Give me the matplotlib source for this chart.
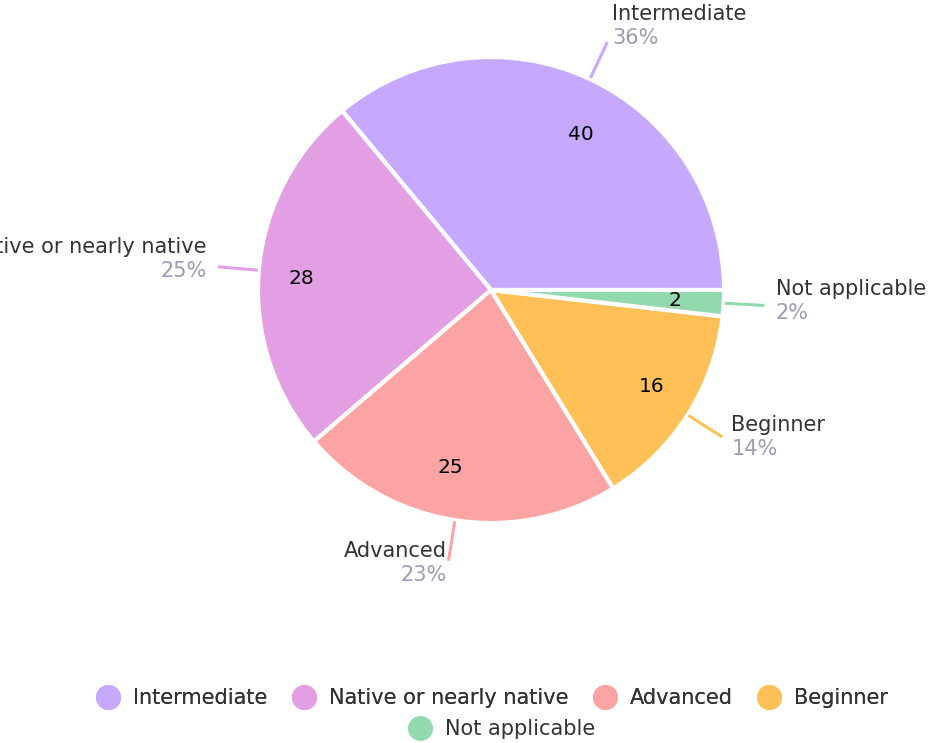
import numpy as np
import matplotlib.pyplot as plt

plt.rcParams['font.family'] = ['DejaVu Sans']

labels = ['Intermediate', 'Native or nearly native', 'Advanced', 'Beginner', 'Not applicable']
counts = [40, 28, 25, 16, 2]
colors = ['#c6a9fe', '#e29fe3', '#fca4a3', '#ffc157', '#93d9ae']

# layout: text offsets from the end of each leader line (px, screen y down)
text_dx = [5, -11, -2, 9, 11]
text_dy = [-4, 4, 14, 12, 7]
# small nudges for the value labels inside the slices (px)
val_dx = [12, -6, -12, 5, 0]
val_dy = [-11, -4, 4, 2, 0]

W, H = 931, 743
cx, cy, R = 491, H - 290, 233
total = sum(counts)

fig = plt.figure(figsize=(W / 100, H / 100), dpi=100)
ax = fig.add_axes([0, 0, 1, 1])

wedges, _, autotexts = ax.pie(
    counts, colors=colors, startangle=0, counterclock=True,
    center=(cx, cy), radius=R,
    wedgeprops=dict(edgecolor='white', linewidth=3),
    autopct=lambda p: f"{round(p * total / 100)}", pctdistance=0.79,
    textprops=dict(fontsize=14.5, color='black'))

for t, dx, dy in zip(autotexts, val_dx, val_dy):
    x, y = t.get_position()
    t.set_position((x + dx, y + dy))

ax.set_xlim(0, W)
ax.set_ylim(0, H)
ax.set_aspect('equal')
ax.axis('off')

for w, lab, n, c, dx, dy in zip(wedges, labels, counts, colors, text_dx, text_dy):
    ang = np.deg2rad((w.theta1 + w.theta2) / 2)
    x0, y0 = cx + 1.005 * R * np.cos(ang), cy + 1.005 * R * np.sin(ang)
    x1, y1 = cx + 1.176 * R * np.cos(ang), cy + 1.176 * R * np.sin(ang)
    ax.plot([x0, x1], [y0, y1], color=c, lw=2.2, solid_capstyle='butt')
    ha = 'left' if np.cos(ang) > 0 else 'right'
    ax.text(x1 + dx, y1 - dy, f"{round(100 * n / total)}%", ha=ha, va='center',
            fontsize=15, color='#9c9bb5')
    ax.text(x1 + dx, y1 - dy + 24, lab, ha=ha, va='center', fontsize=15, color='#333333')

handles = [plt.Line2D([], [], marker='o', ls='', markersize=17, color=c) for c in colors]
leg1 = fig.legend(handles[:4], labels[:4], loc='center', bbox_to_anchor=(492 / W, 1 - 698 / H),
                  ncol=4, frameon=False, fontsize=15, handletextpad=0.6, columnspacing=1.15,
                  handlelength=1.2, labelcolor='#333333', borderpad=0, borderaxespad=0)
fig.legend(handles[4:], labels[4:], loc='center', bbox_to_anchor=(501 / W, 1 - 729 / H),
           frameon=False, fontsize=15, handletextpad=0.6, handlelength=1.2,
           labelcolor='#333333', borderpad=0, borderaxespad=0)
fig.add_artist(leg1)

fig.savefig('out.png', dpi=100)
